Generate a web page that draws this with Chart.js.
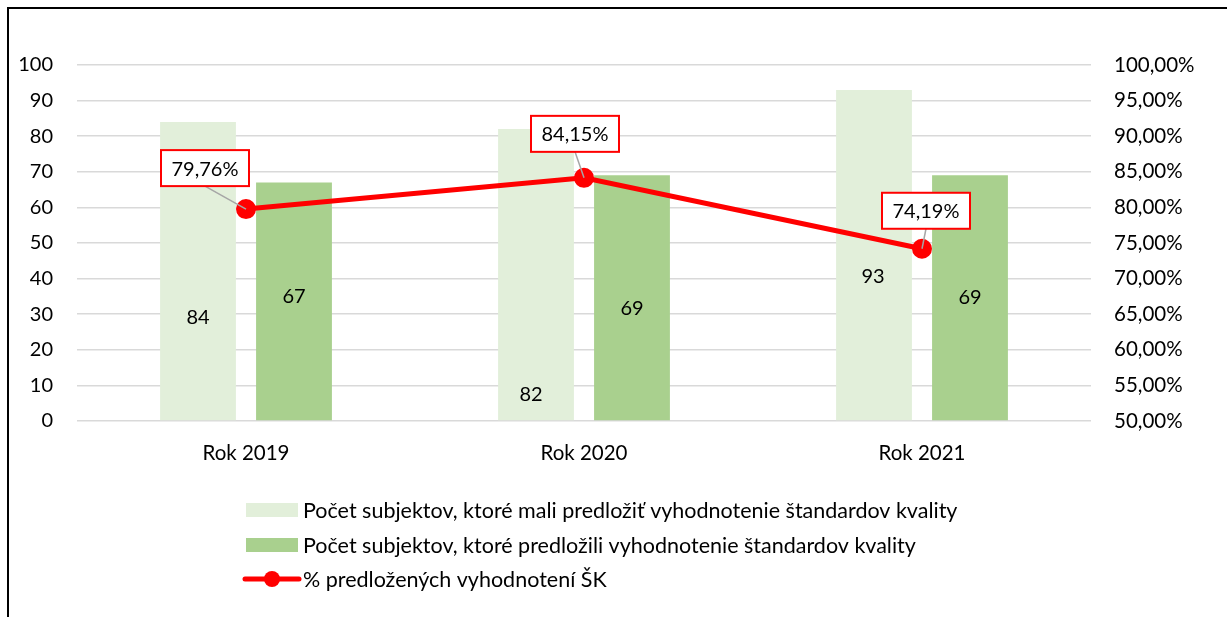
<!DOCTYPE html>
<html>
<head>
<meta charset="utf-8">
<script src="https://cdn.jsdelivr.net/npm/chart.js@4/dist/chart.umd.min.js"></script>
<style>
  body { margin: 0; background: #fff; }
  #wrap { position: relative; width: 1227px; height: 617px; }
  #frame { position: absolute; left: 7px; top: 7px; right: -10px; bottom: -10px;
           border-left: 2px solid #000; border-top: 2px solid #000; pointer-events: none; }
</style>
</head>
<body>
<div id="wrap">
  <canvas id="chart" width="1227" height="617"></canvas>
  <div id="frame"></div>
</div>
<script>
// values
const categories = ['Rok 2019', 'Rok 2020', 'Rok 2021'];
const series_names = [
  'Počet subjektov, ktoré mali predložiť vyhodnotenie štandardov kvality',
  'Počet subjektov, ktoré predložili vyhodnotenie štandardov kvality',
  '% predložených vyhodnotení ŠK'
];
const expected_count = [84, 82, 93];
const submitted_count = [67, 69, 69];
const submitted_pct = [79.76, 84.15, 74.19];
const left_ticks = [0, 100, 10];   // min, max, step
const right_ticks = [50, 100, 5];  // min, max, step (percent)

const FONT = 'Lato, "Open Sans", sans-serif';
const LIGHT = '#E2EFDA';
const DARK = '#A9D08E';
const RED = '#FF0000';

function pct(v) {
  return v.toFixed(2).replace('.', ',') + '%';
}

// labels inside the bars (pixel shift from the bar middle, like the moved labels in the original)
const barLabels = {
  id: 'barLabels',
  afterDatasetsDraw(chart, args, opts) {
    const ctx = chart.ctx;
    ctx.save();
    ctx.font = '20px ' + FONT;
    ctx.fillStyle = '#000';
    ctx.textAlign = 'center';
    ctx.textBaseline = 'middle';
    [0, 1].forEach(function (d) {
      const meta = chart.getDatasetMeta(d);
      meta.data.forEach(function (bar, i) {
        const s = opts.shift[d][i];
        const y = (bar.y + bar.base) / 2 + s[1];
        ctx.fillText(chart.data.datasets[d].data[i], bar.x + s[0], y);
      });
    });
    ctx.restore();
  }
};

// boxed percentage labels with leader lines
const pctLabels = {
  id: 'pctLabels',
  afterDatasetsDraw(chart, args, opts) {
    const ctx = chart.ctx;
    const meta = chart.getDatasetMeta(2);
    ctx.save();
    ctx.font = '20px ' + FONT;
    ctx.textAlign = 'center';
    ctx.textBaseline = 'middle';
    meta.data.forEach(function (pt, i) {
      const cx = pt.x + opts.shift[i][0];
      const cy = pt.y + opts.shift[i][1];
      const w = 88, h = 36;
      // leader line
      ctx.strokeStyle = '#A6A6A6';
      ctx.lineWidth = 1.5;
      ctx.beginPath();
      ctx.moveTo(cx, cy + h / 2);
      ctx.lineTo(pt.x, pt.y);
      ctx.stroke();
      ctx.fillStyle = '#fff';
      ctx.fillRect(cx - w / 2, cy - h / 2, w, h);
      ctx.strokeStyle = RED;
      ctx.lineWidth = 2;
      ctx.strokeRect(cx - w / 2, cy - h / 2, w, h);
      ctx.fillStyle = '#000';
      ctx.fillText(pct(chart.data.datasets[2].data[i]), cx, cy + 1);
    });
    ctx.restore();
  }
};

// stacked legend under the chart
const stackLegend = {
  id: 'stackLegend',
  afterDraw(chart, args, opts) {
    const ctx = chart.ctx;
    ctx.save();
    ctx.font = '21.5px ' + FONT;
    ctx.textBaseline = 'middle';
    ctx.textAlign = 'left';
    chart.data.datasets.forEach(function (ds, i) {
      const y = opts.rows[i];
      if (ds.type === 'line') {
        ctx.strokeStyle = RED;
        ctx.lineWidth = 5;
        ctx.lineCap = 'round';
        ctx.beginPath();
        ctx.moveTo(opts.x, y);
        ctx.lineTo(opts.x + 54, y);
        ctx.stroke();
        ctx.fillStyle = RED;
        ctx.beginPath();
        ctx.arc(opts.x + 27, y, 8, 0, Math.PI * 2);
        ctx.fill();
      } else {
        ctx.fillStyle = ds.backgroundColor;
        ctx.fillRect(opts.x + 1, y - 7, 52, 14);
      }
      ctx.fillStyle = '#000';
      ctx.fillText(ds.label, opts.x + 58, y + 1);
    });
    ctx.restore();
  }
};

var ctx = document.getElementById('chart').getContext('2d');
var myChart = new Chart(ctx, {
  type: 'bar',
  data: {
    labels: categories,
    datasets: [{
      label: series_names[0],
      data: expected_count,
      backgroundColor: LIGHT,
      yAxisID: 'y',
      order: 2,
      categoryPercentage: 0.568,
      barPercentage: 0.79
    }, {
      label: series_names[1],
      data: submitted_count,
      backgroundColor: DARK,
      yAxisID: 'y',
      order: 2,
      categoryPercentage: 0.568,
      barPercentage: 0.79
    }, {
      type: 'line',
      label: series_names[2],
      data: submitted_pct,
      yAxisID: 'y2',
      borderColor: RED,
      backgroundColor: RED,
      borderWidth: 5,
      pointRadius: 9,
      pointBorderWidth: 2,
      pointBorderColor: RED,
      pointBackgroundColor: RED,
      tension: 0,
      order: 0
    }]
  },
  options: {
    responsive: false,
    animation: false,
    layout: { padding: { top: 65, left: 0, right: 0, bottom: 0 } },
    plugins: {
      legend: { display: false },
      tooltip: { enabled: false },
      barLabels: { shift: [[[0, 46], [-5, 120], [-1, 21]], [[0, -5], [0, 11], [0, 0]]] },
      pctLabels: { shift: [[-41, -41], [-9, -44], [4, -38]] },
      stackLegend: { x: 245, rows: [510, 545, 579] }
    },
    scales: {
      x: {
        grid: { display: false, drawTicks: false },
        border: { display: false },
        ticks: { color: '#000', font: { family: FONT, size: 20.5 }, padding: 20 },
        afterFit: function (s) { s.height = 196; }
      },
      y: {
        position: 'left',
        min: left_ticks[0],
        max: left_ticks[1],
        grid: { color: '#D9D9D9', lineWidth: 1.5, drawTicks: false },
        border: { display: false },
        ticks: { stepSize: left_ticks[2], color: '#000', font: { family: FONT, size: 20 }, padding: 24 },
        afterFit: function (s) { s.width = 77; }
      },
      y2: {
        position: 'right',
        min: right_ticks[0],
        max: right_ticks[1],
        grid: { display: false, drawTicks: false },
        border: { display: false },
        ticks: {
          stepSize: right_ticks[2], color: '#000', font: { family: FONT, size: 20.5 }, padding: 23,
          callback: function (v) { return pct(v); }
        },
        afterFit: function (s) { s.width = 136; }
      }
    }
  },
  plugins: [barLabels, pctLabels, stackLegend]
});
</script>
</body>
</html>
